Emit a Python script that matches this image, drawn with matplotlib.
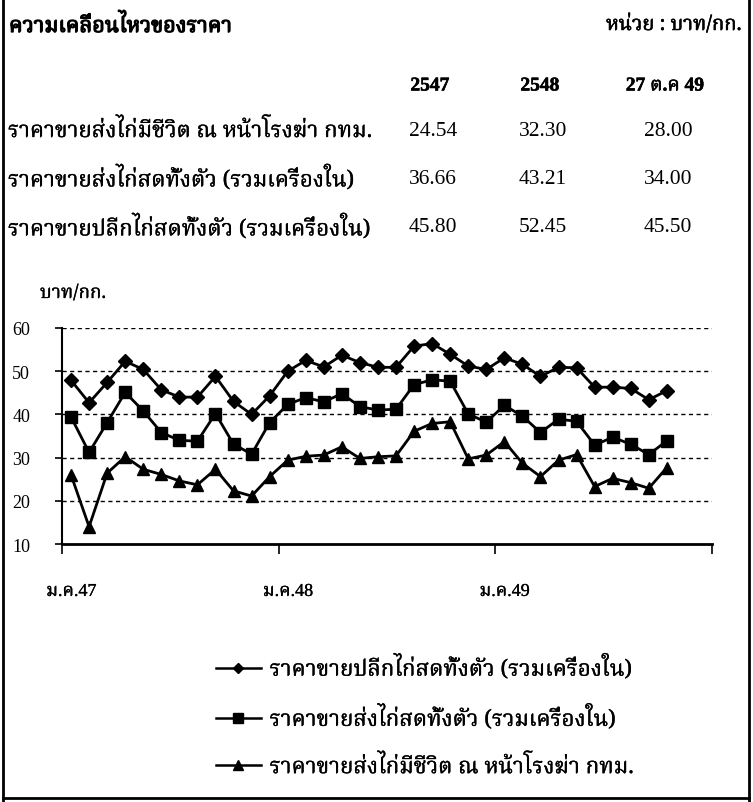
import matplotlib

matplotlib.use("Agg")
import matplotlib.pyplot as plt
import matplotlib.patheffects as pe
from matplotlib import font_manager
from matplotlib.ft2font import FT2Font
from matplotlib.lines import Line2D

# monthly prices, Jan 2547 - Oct 2549 (baht/kg)
retail = [47.9, 42.7, 47.4, 52.3, 50.4, 45.7, 44.0, 44.0, 48.8, 43.0, 40.0, 44.3,
          50.0, 52.5, 51.0, 53.7, 52.0, 50.9, 50.9, 55.8, 56.4, 53.9, 51.2, 50.4,
          53.1, 51.6, 48.8, 50.9, 50.8, 46.3, 46.3, 46.0, 43.4, 45.5]
wholesale = [39.4, 31.2, 38.1, 45.1, 40.8, 35.8, 34.0, 33.8, 40.2, 33.1, 30.8, 38.1,
             42.3, 43.9, 42.9, 44.8, 41.8, 41.0, 41.2, 46.9, 48.0, 47.7, 40.1, 38.2,
             42.1, 39.6, 35.8, 38.9, 38.4, 32.9, 34.7, 33.1, 30.7, 33.9]
live = [26.0, 14.0, 26.4, 30.2, 27.3, 26.1, 24.6, 23.7, 27.3, 22.3, 21.1, 25.6,
        29.4, 30.3, 30.6, 32.5, 29.8, 30.2, 30.4, 36.1, 37.9, 38.3, 29.7, 30.6,
        33.7, 28.7, 25.6, 29.4, 30.7, 23.3, 25.2, 24.2, 22.9, 27.7]

series_labels = ["ราคาขายปลีกไก่สดทั้งตัว (รวมเครื่องใน)",
                 "ราคาขายส่งไก่สดทั้งตัว (รวมเครื่องใน)",
                 "ราคาขายส่งไก่มีชีวิต ณ หน้าโรงฆ่า กทม."]
month_labels = ["ม.ค.47", "ม.ค.48", "ม.ค.49"]
n_months_total = 36

# summary table
col_headers = ["2547", "2548", "27 ต.ค 49"]
row_labels = ["ราคาขายส่งไก่มีชีวิต ณ หน้าโรงฆ่า กทม.",
              "ราคาขายส่งไก่สดทั้งตัว (รวมเครื่องใน)",
              "ราคาขายปลีกไก่สดทั้งตัว (รวมเครื่องใน)"]
table_values = [["24.54", "32.30", "28.00"],
                ["36.66", "43.21", "34.00"],
                ["45.80", "52.45", "45.50"]]


def find_thai_font():
    preferred = ["Norasi", "Noto Serif Thai", "Laksaman", "Sarabun", "TH Sarabun New",
                 "Noto Sans Thai", "Garuda", "Loma", "Kinnari", "Tlwg Typo"]
    found = []
    for f in font_manager.fontManager.ttflist:
        try:
            if FT2Font(f.fname).get_char_index(ord("ก")):
                found.append(f.name)
        except Exception:
            pass
    for name in preferred:
        if name in found:
            return name
    return found[0] if found else "DejaVu Sans"


THAI = find_thai_font()
SERIF = "Liberation Serif"
MIXED = [SERIF, THAI, "DejaVu Sans"]
THAI_FAM = [THAI, SERIF, "DejaVu Sans"]
BOLD = [pe.withStroke(linewidth=0.9, foreground="black")]
SEMI = [pe.withStroke(linewidth=0.4, foreground="black")]
LIGHT = [pe.withStroke(linewidth=0.2, foreground="black")]

W, H = 753, 803
fig = plt.figure(figsize=(W / 100, H / 100), dpi=100)


def px(x, y):
    return x / W, 1 - y / H


# header texts
fig.text(*px(9, 27), "ความเคลื่อนไหวของราคา", family=THAI_FAM, fontsize=15.5,
         fontweight="bold", va="center", ha="left", path_effects=BOLD)
fig.text(*px(741, 26), "หน่วย : บาท/กก.", family=THAI_FAM, fontsize=14.5,
         va="center", ha="right", path_effects=SEMI)

col_x = [430, 540, 665]
for x, h in zip(col_x, col_headers):
    fig.text(*px(x, 87), h, family=MIXED, fontsize=14, fontweight="bold",
             ha="center", va="center", path_effects=SEMI)
row_y = [131, 179, 228]
for y, lab, vals in zip(row_y, row_labels, table_values):
    fig.text(*px(8, y), lab, family=THAI_FAM, fontsize=16, ha="left", va="center",
             path_effects=LIGHT)
    for x, v in zip(col_x, vals):
        fig.text(*px(x + 3, y), v, family=SERIF, fontsize=15.5, ha="center", va="center")

fig.text(*px(40, 294), "บาท/กก.", family=THAI_FAM, fontsize=13.5, ha="left", va="center",
         path_effects=LIGHT)

# chart
x0, x1, ytop, ybot = 62, 712, 329, 545
ax = fig.add_axes([x0 / W, 1 - ybot / H, (x1 - x0) / W, (ybot - ytop) / H])
months = list(range(len(retail)))
ax.plot(months, retail, color="black", lw=2, marker="D", ms=7, label=series_labels[0])
ax.plot(months, wholesale, color="black", lw=2, marker="s", ms=8, label=series_labels[1])
ax.plot(months, live, color="black", lw=2, marker="^", ms=8.5, label=series_labels[2])

ax.set_xlim(-0.5, n_months_total - 0.5)
ax.set_ylim(10, 60)
ax.set_yticks(range(10, 61, 10))
for yv in range(20, 61, 10):
    ax.axhline(yv, color="black", lw=1, ls=(0, (3, 2.5)), zorder=0)
ax.set_xticks([-0.5, 11.5, 23.5, 35.5])
ax.set_xticklabels([])
ax.set_xticks([0, 12, 24], labels=month_labels, minor=True)
ax.tick_params(axis="x", which="major", direction="out", length=7, width=1.2)
ax.tick_params(axis="x", which="minor", length=0, pad=28, labelsize=13)
ax.tick_params(axis="y", direction="out", length=5, width=1.2, pad=18, labelsize=13)
for lab in ax.get_xticklabels(minor=True):
    lab.set_family(MIXED)
    lab.set_path_effects(LIGHT)
for lab in ax.get_yticklabels():
    lab.set_family(SERIF)
for side in ["top", "right"]:
    ax.spines[side].set_visible(False)
ax.spines["left"].set_linewidth(1.5)
ax.spines["bottom"].set_linewidth(2)

handles = [Line2D([], [], color="black", lw=1.8, marker=m, ms=s)
           for m, s in zip(["D", "s", "^"], [5.5, 6.5, 6.5])]
leg = fig.legend(handles, series_labels, loc="center", bbox_to_anchor=px(425, 717),
                 frameon=False, handlelength=2.0, handletextpad=0.4, labelspacing=1.05,
                 prop={"family": THAI_FAM, "size": 16})
for t in leg.get_texts():
    t.set_path_effects(LIGHT)

# outer frame
frame_kw = dict(color="black", lw=2, transform=fig.transFigure)
fig.add_artist(Line2D([3 / W, 3 / W], [0, 1], **frame_kw))
fig.add_artist(Line2D([749 / W, 749 / W], [0, 1], **frame_kw))
fig.add_artist(Line2D([3 / W, 749 / W], [1 - 799 / H, 1 - 799 / H], **frame_kw))

fig.savefig("out.png", dpi=100)
